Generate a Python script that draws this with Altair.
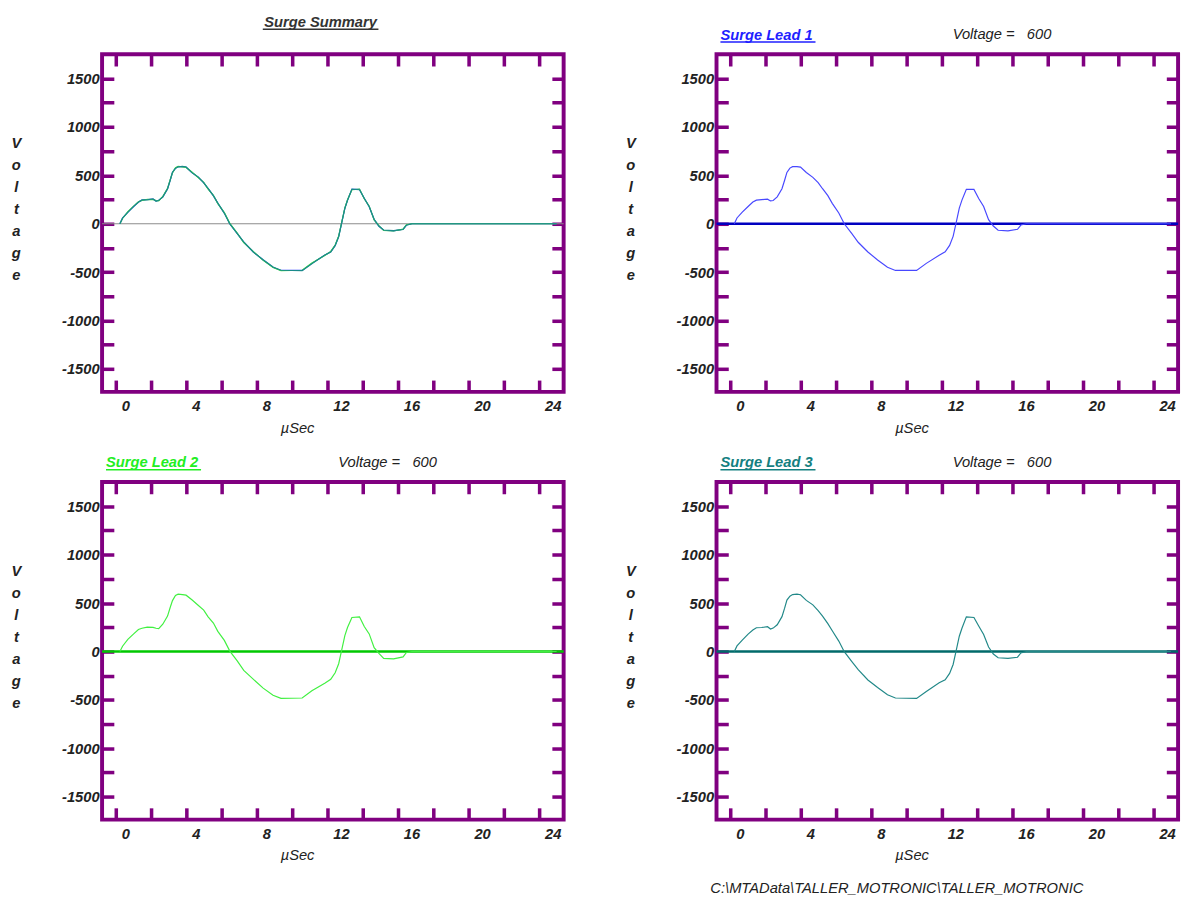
import altair as alt
import pandas as pd

# ---- data -------------------------------------------------------------
time_us = [0.25, 0.40, 0.70, 1.03, 1.30, 1.50, 1.80, 2.13, 2.30, 2.45, 2.68, 2.95,
           3.10, 3.23, 3.40, 3.55, 3.80, 4.00, 4.33, 4.70, 5.00, 5.25, 5.55, 5.80,
           6.17, 6.48, 6.90, 7.27, 7.82, 8.37, 8.93, 9.38, 10.58, 11.13, 11.86,
           12.20, 12.45, 12.65, 12.82, 13.00, 13.15, 13.40, 13.83, 14.10, 14.38,
           14.66, 14.93, 15.20, 15.76, 16.30, 16.49, 16.80, 25.00]
lead1_v = [0, 60, 120, 178, 225, 244, 250, 254, 236, 240, 278, 362,
           450, 530, 575, 590, 590, 585, 530, 479, 425, 362, 290, 211,
           111, 0, -100, -191, -291, -375, -449, -482, -482, -409, -325,
           -290, -224, -130, 10, 161, 244, 355, 355, 261, 178,
           43, -23, -67, -73, -57, -13, 0, 0]
lead2_v = [0, 55, 125, 182, 228, 240, 252, 250, 240, 236, 282, 366,
           455, 526, 578, 592, 588, 582, 534, 475, 428, 358, 294, 208,
           115, 4, -96, -195, -288, -378, -452, -484, -480, -405, -328,
           -286, -220, -126, 14, 165, 248, 352, 358, 258, 182,
           40, -20, -70, -75, -55, -10, 0, 0]
lead3_v = [0, 58, 118, 180, 222, 246, 248, 256, 232, 242, 276, 360,
           448, 532, 572, 588, 592, 586, 528, 482, 422, 365, 288, 214,
           108, -2, -102, -188, -294, -372, -446, -480, -484, -412, -322,
           -292, -226, -134, 8, 158, 240, 358, 352, 264, 175,
           46, -26, -64, -71, -59, -15, 0, 0]

x_ticks = list(range(0, 25, 2))
y_ticks = list(range(-1500, 1501, 250))
X_DOMAIN = [-0.76, 25.4]
Y_DOMAIN = [-1736, 1751]

titles = ["Surge Summary", "Surge Lead 1", "Surge Lead 2", "Surge Lead 3"]
voltage_text = "Voltage = \u00a0\u00a0600"
footer_text = "C:\\MTAData\\TALLER_MOTRONIC\\TALLER_MOTRONIC"

PURPLE = "#800080"
FONT = "Liberation Sans"
TXT = "#222222"
W, H = 471, 344.5

xs = alt.Scale(domain=X_DOMAIN, nice=False, zero=False)
ys = alt.Scale(domain=Y_DOMAIN, nice=False, zero=False)

tick_common = dict(tickColor=PURPLE, tickWidth=3.6, tickSize=12, offset=-12,
                   domain=False, grid=False)

x_main = alt.Axis(orient="bottom", values=x_ticks, **tick_common,
                  labelExpr="datum.value % 4 === 0 ? datum.label : ''",
                  labelOffset={"condition": {"test": "datum.value >= 10", "value": 14},
                               "value": 10},
                  labelPadding=14.5, labelBaseline="middle",
                  labelFont=FONT, labelFontSize=15, labelFontWeight="bold",
                  labelFontStyle="italic", labelColor=TXT,
                  title="µSec", titleX=199, titleY=48, titleBaseline="middle",
                  titleAlign="center", titleFont=FONT, titleFontSize=15,
                  titleFontWeight="normal", titleFontStyle="italic", titleColor=TXT)
y_main = alt.Axis(orient="left", values=y_ticks, **tick_common,
                  labelExpr="datum.value % 500 === 0 ? '' + datum.value : ''",
                  labelPadding=3, labelFont=FONT, labelFontSize=15,
                  labelFontWeight="bold", labelFontStyle="italic", labelColor=TXT,
                  title=["V", "o", "l", "t", "a", "g", "e"], titleAngle=0,
                  titleX=-100, titleY=83, titleAlign="center",
                  titleBaseline="top", titleLineHeight=22.5, titleFont=FONT,
                  titleFontSize=15, titleFontWeight="bold",
                  titleFontStyle="italic", titleColor=TXT)
x_top = alt.Axis(orient="top", values=x_ticks, **tick_common, labels=False, title=None)
y_right = alt.Axis(orient="right", values=y_ticks, **tick_common, labels=False, title=None)


def trace_df(vals):
    return pd.DataFrame({"t": time_us, "v": vals})


def text_layer(txt, x, y, color, align, weight, size=15):
    return alt.Chart(pd.DataFrame({"s": [txt]})).mark_text(
        align=align, baseline="middle", font=FONT, fontSize=size,
        fontStyle="italic", fontWeight=weight, color=color
    ).encode(text="s:N", x=alt.value(x), y=alt.value(y))


def underline(x1, x2, y, color):
    return alt.Chart(pd.DataFrame({"s": [0]})).mark_rule(
        color=color, strokeWidth=1.3
    ).encode(x=alt.value(x1), x2=alt.value(x2), y=alt.value(y))


def panel(traces, zero_color, zero_width, deco):
    layers = []
    zero_df = pd.DataFrame({"v": [0]})
    layers.append(alt.Chart(zero_df).mark_rule(color=zero_color, strokeWidth=zero_width)
                  .encode(y=alt.Y("v:Q", scale=ys, axis=None)))
    first = True
    for vals, color in traces:
        df = trace_df(vals)
        if first:
            layers.append(alt.Chart(df).mark_line(color=color, strokeWidth=1.2)
                          .encode(x=alt.X("t:Q", scale=xs, axis=x_main),
                                  y=alt.Y("v:Q", scale=ys, axis=y_main)))
            layers.append(alt.Chart(df).mark_line(strokeOpacity=0)
                          .encode(x=alt.X("t:Q", scale=xs, axis=x_top),
                                  y=alt.Y("v:Q", scale=ys, axis=y_right)))
            first = False
        else:
            layers.append(alt.Chart(df).mark_line(color=color, strokeWidth=1.2)
                          .encode(x=alt.X("t:Q", scale=xs, axis=None),
                                  y=alt.Y("v:Q", scale=ys, axis=None)))
    layers.extend(deco)
    return alt.layer(*layers).resolve_axis(x="independent", y="independent").properties(
        width=W, height=H)


def lead_deco(title, color, extra=None):
    d = [text_layer(title, 4, -20, color, "left", "bold"),
         underline(4, 101, -12.5, color),
         text_layer(voltage_text, 241, -20.5, TXT, "left", "normal")]
    if extra:
        d.extend(extra)
    return d


p_summary = panel([(lead1_v, "#2f3cff"), (lead2_v, "#3ee03e"), (lead3_v, "#1a8a8a")],
                  "#8c8c8c", 1.2,
                  [text_layer(titles[0], 223, -33, "#333333", "center", "bold"),
                   underline(164, 282, -25.5, "#333333")])
p_lead1 = panel([(lead1_v, "#4848ff")], "#0000c0", 2.4, lead_deco(titles[1], "#1f1fff"))
p_lead2 = panel([(lead2_v, "#40f040")], "#00c800", 2.4, lead_deco(titles[2], "#22ee22"))
p_lead3 = panel([(lead3_v, "#218888")], "#006a6a", 2.4,
                lead_deco(titles[3], "#148080",
                          [text_layer(footer_text, 184, 414, TXT, "center", "normal")]))

chart = alt.concat(
    p_summary, p_lead1, p_lead2, p_lead3,
    columns=2, spacing={"row": 91.5, "column": 156}, bounds="flush",
).properties(
    padding={"left": 0, "top": -4, "right": 0, "bottom": 0},
    background="white",
).configure_view(stroke=PURPLE, strokeWidth=4, fill="white")

chart.save("out.html", embed_options={"renderer": "svg", "actions": False})
